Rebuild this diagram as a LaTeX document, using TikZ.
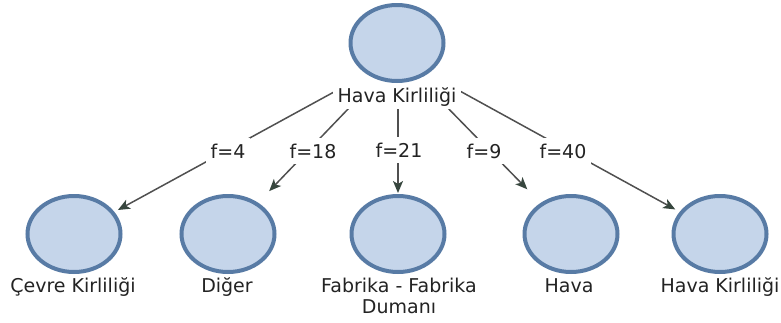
\documentclass[tikz,border=0pt]{standalone}
\usepackage{fontspec}
\setmainfont{DejaVu Sans}
\usetikzlibrary{shapes.geometric,arrows.meta}
\definecolor{nodefill}{RGB}{197,213,234}
\definecolor{nodeline}{RGB}{88,123,165}
\definecolor{edgecol}{RGB}{80,80,80}
\definecolor{tipcol}{RGB}{55,70,62}
\definecolor{txt}{RGB}{35,35,35}
\begin{document}
\begin{tikzpicture}[x=1pt,y=-1pt,
  blob/.style={ellipse, draw=nodeline, fill=nodefill, line width=4pt,
    minimum width=93pt, minimum height=76pt, inner sep=0pt, outer sep=0pt},
  lbl/.style={font=\fontsize{19}{21}\selectfont, text=txt, inner sep=0pt},
  flbl/.style={font=\fontsize{19}{21}\selectfont, text=txt, fill=white,
    inner xsep=5pt, inner ysep=6pt, anchor=base},
  conn/.style={draw=edgecol, line width=1.5pt,
    -{Stealth[length=12pt,width=10pt,inset=3pt,color=tipcol]}}]
\useasboundingbox (0,0) rectangle (781,322);
% circles
\node[blob] (t) at (397,43) {};
\coordinate (hub) at (398,57);
\node[blob] (c1) at (74,234) {};
\node[blob] (c2) at (228,234) {};
\node[blob] (c3) at (398,234) {};
\node[blob] (c4) at (571,234) {};
\node[blob] (c5) at (720,234) {};
% connectors
\begin{scope}
\clip (0,84) rectangle (781,322);
\draw[conn, shorten >=6pt] (hub) -- (c1);
\draw[conn, shorten >=18pt] (hub) -- (c2);
\draw[conn, shorten >=3pt] (hub) -- (c3);
\draw[conn, shorten >=21pt] (hub) -- (c4);
\draw[conn, shorten >=7pt] (hub) -- (c5);
\end{scope}
% top label
\node[lbl, fill=white, inner xsep=5pt, inner ysep=3pt, anchor=base] (tl) at (397,102) {Hava Kirliliği};
% edge labels
\node[flbl] (e1) at (228,158) {f=4};
\node[flbl] (e2) at (313,158) {f=18};
\node[flbl] (e3) at (399,157) {f=21};
\node[flbl] (e4) at (484,158) {f=9};
\node[flbl] (e5) at (563,158) {f=40};
% child labels
\node[lbl, anchor=base] (l1) at (73,292) {Çevre Kirliliği};
\node[lbl, anchor=base] (l2) at (227,292) {Diğer};
\node[lbl, anchor=north, align=center] (l3) at (399,277.6) {Fabrika - Fabrika\\Dumanı};
\node[lbl, anchor=base] (l4) at (569,292) {Hava};
\node[lbl, anchor=base] (l5) at (720,292) {Hava Kirliliği};
\end{tikzpicture}
\end{document}
